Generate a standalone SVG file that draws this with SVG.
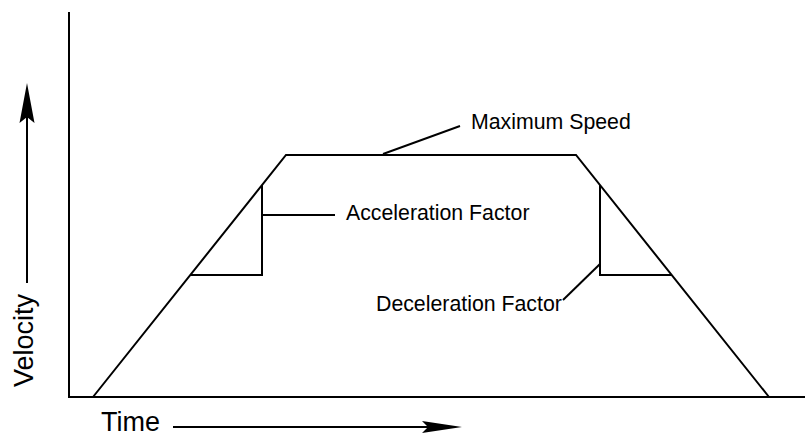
<svg xmlns="http://www.w3.org/2000/svg" width="805" height="436" viewBox="0 0 805 436">
<style>
.ln{fill:none;stroke:#000;stroke-width:2;stroke-linejoin:miter}
.lbl{font-family:"Liberation Sans",Arial,sans-serif;font-size:21.3px;fill:#000}
.ax{font-family:"Liberation Sans",Arial,sans-serif;font-size:27px;fill:#000}
</style>
<rect width="805" height="436" fill="#fff"/>
<g id="axes">
<polyline class="ln" points="69,12 69,397 805,397"/>
</g>
<g id="profile">
<polyline class="ln" points="93,397 286,155 576,155 769,397"/>
</g>
<g id="accel-triangle">
<polyline class="ln" points="262,185 262,275 190,275"/>
</g>
<g id="decel-triangle">
<polyline class="ln" points="600,185 600,275 672,275"/>
</g>
<g id="connectors">
<line class="ln" x1="383" y1="154" x2="460" y2="126"/>
<line class="ln" x1="262" y1="215" x2="335" y2="215"/>
<line class="ln" x1="600" y1="264" x2="563" y2="300"/>
<line class="ln" x1="27" y1="283" x2="27" y2="115"/>
<polygon points="27,83 34.5,123 27,117 19.5,123" fill="#000"/>
<line class="ln" x1="173" y1="427" x2="430" y2="427"/>
<polygon points="462,427 422,433 428,427 422,421" fill="#000"/>
</g>
<g id="label-max">
<text class="lbl" x="471" y="129">Maximum Speed</text>
</g>
<g id="label-accel">
<text class="lbl" x="346" y="220">Acceleration Factor</text>
</g>
<g id="label-decel">
<text class="lbl" x="376" y="311">Deceleration Factor</text>
</g>
<g id="label-velocity">
<text class="ax" transform="translate(33,387) rotate(-90)">Velocity</text>
</g>
<g id="label-time">
<text class="ax" x="101" y="431">Time</text>
</g>
</svg>
